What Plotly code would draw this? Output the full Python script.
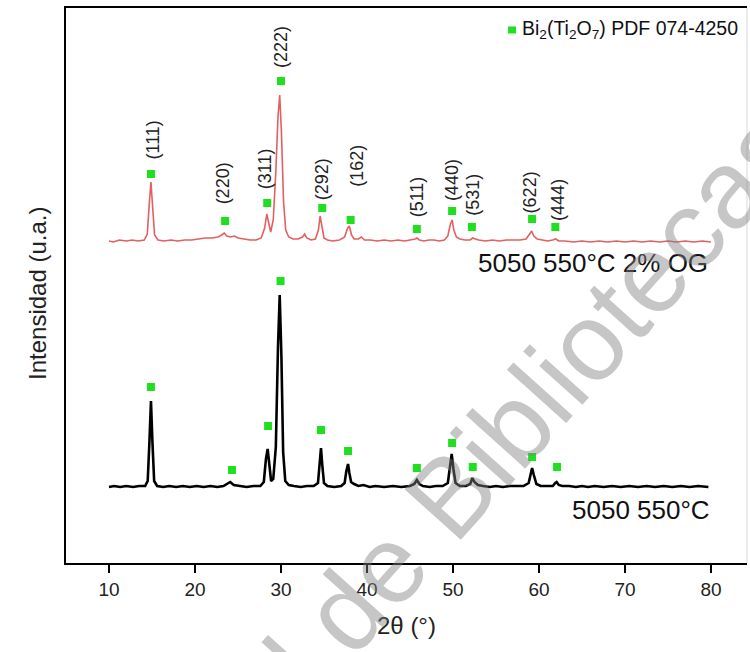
import plotly.graph_objects as go

# XRD patterns: (2theta in degrees, intensity above the pattern's own baseline, a.u.)
pattern_5050 = [
    (10.0, 0), (10.6, 1), (11.3, 0), (12.0, 1), (12.8, 0), (13.5, 1), (14.2, 1),
    (14.5, 6), (14.7, 45), (14.88, 86), (15.05, 45), (15.25, 6), (15.6, 1),
    (16.3, 0), (17.0, 1), (17.8, 0), (18.6, 1), (19.4, 0), (20.2, 1), (21.0, 0),
    (21.8, 1), (22.6, 0), (23.3, 1), (23.8, 3), (24.1, 5), (24.5, 2), (25.2, 1),
    (26.0, 0), (26.8, 1), (27.6, 1), (28.0, 5), (28.25, 28), (28.45, 38),
    (28.65, 22), (28.85, 6), (29.1, 8), (29.4, 40), (29.65, 140), (29.85, 192),
    (30.05, 130), (30.25, 35), (30.5, 6), (30.9, 2), (31.5, 1), (32.3, 0),
    (33.0, 1), (33.8, 1), (34.3, 4), (34.5, 22), (34.65, 39), (34.8, 22),
    (35.0, 4), (35.4, 1), (36.2, 0), (37.0, 1), (37.4, 4), (37.6, 16), (37.8, 23),
    (37.95, 14), (38.15, 5), (38.5, 3), (39.0, 1), (39.6, 2), (40.3, 0), (41.0, 1),
    (42.0, 0), (43.0, 1), (44.0, 0), (45.0, 1), (45.5, 3), (45.8, 7), (46.1, 3),
    (46.5, 1), (47.3, 0), (48.0, 1), (48.8, 1), (49.4, 4), (49.65, 20),
    (49.85, 33), (50.05, 18), (50.3, 4), (50.8, 1), (51.5, 1), (52.0, 3),
    (52.25, 9), (52.5, 5), (52.9, 2), (53.5, 1), (54.3, 0), (55.0, 1), (55.8, 0),
    (56.6, 1), (57.4, 1), (58.2, 1), (58.8, 4), (59.05, 15), (59.2, 19),
    (59.4, 12), (59.7, 3), (60.2, 1), (61.0, 1), (61.6, 1), (61.9, 4), (62.05, 5),
    (62.3, 2), (62.7, 1), (63.5, 1), (64.3, 0), (65.0, 1), (65.7, 0), (66.5, 1),
    (67.5, 0), (68.5, 1), (69.5, 0), (70.5, 1), (71.5, 0), (72.5, 1), (73.5, 0),
    (74.5, 1), (75.5, 0), (76.5, 1), (77.5, 0), (78.5, 1), (79.7, 0),
]

pattern_5050_og = [
    (10.0, 1), (10.5, 0), (11.2, 2), (12.0, 1), (12.7, 2), (13.4, 1), (14.1, 2),
    (14.45, 8), (14.7, 40), (14.88, 60), (15.05, 38), (15.3, 7), (15.7, 2),
    (16.4, 1), (17.2, 2), (18.0, 1), (18.8, 2), (19.6, 2), (20.4, 3), (21.2, 4),
    (22.0, 4), (22.7, 5), (23.1, 7), (23.4, 9), (23.7, 6), (24.1, 5), (24.6, 6),
    (25.0, 4), (25.7, 3), (26.4, 2), (27.1, 2), (27.7, 4), (28.1, 14),
    (28.35, 28), (28.55, 20), (28.8, 10), (29.1, 22), (29.4, 70), (29.65, 125),
    (29.85, 147), (30.05, 110), (30.3, 40), (30.55, 12), (30.9, 5), (31.4, 3),
    (32.0, 3), (32.5, 5), (32.75, 8), (33.0, 4), (33.5, 2), (34.0, 3),
    (34.35, 12), (34.55, 26), (34.75, 14), (35.0, 4), (35.4, 2), (36.0, 1),
    (36.8, 2), (37.4, 5), (37.75, 14), (37.95, 16), (38.2, 7), (38.5, 3),
    (39.0, 3), (39.35, 5), (39.7, 2), (40.4, 2), (41.2, 1), (42.0, 2), (42.8, 1),
    (43.6, 2), (44.4, 1), (45.2, 2), (45.6, 3), (45.8, 4), (46.1, 2), (46.6, 1),
    (47.2, 2), (47.8, 2), (48.4, 1), (49.0, 2), (49.4, 6), (49.7, 18),
    (49.9, 22), (50.1, 12), (50.4, 5), (50.8, 3), (51.4, 2), (52.0, 2),
    (52.3, 4), (52.6, 3), (53.0, 2), (53.8, 1), (54.6, 2), (55.4, 1), (56.2, 2),
    (57.0, 2), (57.8, 2), (58.5, 3), (58.9, 8), (59.15, 11), (59.4, 6),
    (59.8, 3), (60.4, 2), (61.0, 1), (61.6, 2), (61.95, 3), (62.3, 1), (63.0, 1),
    (64.0, 0), (65.0, 1), (66.0, 0), (67.0, 1), (68.0, 0), (69.0, 1), (70.0, 0),
    (71.0, 1), (72.0, 0), (73.0, 1), (74.0, 0), (75.0, 1), (76.0, 0), (77.0, 1),
    (78.0, 0), (79.0, 1), (80.0, 0),
]

# Bi2Ti2O7 (PDF 074-4250) reflections
hkl = ["(111)", "(220)", "(311)", "(222)", "(292)", "(162)",
       "(511)", "(440)", "(531)", "(622)", "(444)"]

ref_tth_og = [14.88, 23.5, 28.4, 30.0, 34.8, 38.1, 45.8, 49.9, 52.2, 59.2, 61.9]
ref_height_og = [68, 21, 39, 161, 34, 22, 13, 31, 15, 23, 15]
ref_tth = [14.88, 24.3, 28.5, 29.95, 34.65, 37.8, 45.8, 49.9, 52.3, 59.2, 62.1]
ref_height = [100, 17, 61, 206, 57, 36, 19, 44, 20, 30, 20]

# hkl label placement (2theta, height of the label's lower end above the OG baseline)
label_tth = [15.0, 23.3, 28.1, 30.0, 34.8, 38.8, 45.8, 49.9, 52.3, 59.0, 62.2]
label_height = [80, 36, 51, 172, 40, 53, 23, 39, 24, 27, 19]

# vertical stacking offsets of the two patterns
OFFSET_5050 = 76
OFFSET_OG = 321

FONT = "Liberation Sans, Arial, sans-serif"
GREEN = "#1fe01f"

tth_a = [p[0] for p in pattern_5050]
int_a = [p[1] + OFFSET_5050 for p in pattern_5050]
tth_b = [p[0] for p in pattern_5050_og]
int_b = [p[1] + OFFSET_OG for p in pattern_5050_og]

fig = go.Figure()

fig.add_trace(go.Scatter(
    x=tth_a, y=int_a, mode="lines",
    line=dict(color="black", width=2.6), showlegend=False))
fig.add_trace(go.Scatter(
    x=tth_b, y=int_b, mode="lines",
    line=dict(color="rgb(226,96,96)", width=1.6), showlegend=False))

fig.add_trace(go.Scatter(
    x=ref_tth, y=[h + OFFSET_5050 for h in ref_height], mode="markers",
    marker=dict(symbol="square", size=8, color=GREEN), showlegend=False))
fig.add_trace(go.Scatter(
    x=ref_tth_og, y=[h + OFFSET_OG for h in ref_height_og], mode="markers",
    marker=dict(symbol="square", size=8, color=GREEN), showlegend=False))

annotations = []
for name, xt, h in zip(hkl, label_tth, label_height):
    annotations.append(dict(
        x=xt, y=h + OFFSET_OG, xref="x", yref="y", text=name, textangle=-90,
        showarrow=False, xanchor="center", yanchor="bottom",
        font=dict(family=FONT, size=18, color="#222222")))

# sample names
annotations.append(dict(
    x=79.9, y=OFFSET_OG - 21, xref="x", yref="y", text="5050 550°C 2% OG",
    showarrow=False, xanchor="right", yanchor="middle",
    font=dict(family=FONT, size=26, color="#111111")))
annotations.append(dict(
    x=80.1, y=OFFSET_5050 - 23, xref="x", yref="y", text="5050 550°C",
    showarrow=False, xanchor="right", yanchor="middle",
    font=dict(family=FONT, size=26, color="#111111")))

# legend entry
annotations.append(dict(
    x=0.6667, y=0.9604, xref="paper", yref="paper",
    text="Bi<sub>2</sub>(Ti<sub>2</sub>O<sub>7</sub>) PDF 074-4250",
    showarrow=False, xanchor="left", yanchor="middle",
    font=dict(family=FONT, size=19.5, color="#111111")))

# y-axis title
annotations.append(dict(
    x=-0.0411, y=0.4847, xref="paper", yref="paper", text="Intensidad (u.a.)",
    textangle=-90, showarrow=False, xanchor="center", yanchor="middle",
    font=dict(family=FONT, size=24, color="#222222")))

# library watermark
annotations.append(dict(
    x=0.508, y=0.0486, xref="paper", yref="paper", text="General de Bibliotecas",
    textangle=-48, showarrow=False, xanchor="center", yanchor="middle",
    font=dict(family=FONT, size=110, color="rgba(128,128,128,0.45)")))

shapes = [
    dict(type="rect", xref="paper", yref="paper", xsizemode="pixel", ysizemode="pixel",
         xanchor=0.655, yanchor=0.9604, x0=-4, x1=4, y0=-3.5, y1=3.5,
         fillcolor=GREEN, line=dict(width=0)),
    dict(type="line", xref="paper", yref="paper", x0=1, x1=1, y0=0, y1=1,
         line=dict(color="#d9d9d9", width=1)),
]

fig.update_layout(
    width=750, height=652,
    margin=dict(l=66, r=3, t=8, b=89),
    paper_bgcolor="white", plot_bgcolor="white",
    font=dict(family=FONT, color="#222222"),
    annotations=annotations, shapes=shapes,
    showlegend=False,
    xaxis=dict(
        range=[5, 84.19], tickmode="array", tickvals=[10, 20, 30, 40, 50, 60, 70, 80],
        ticks="outside", ticklen=8, tickwidth=1.5, tickcolor="black",
        ticklabelstandoff=0,
        showline=True, linecolor="black", linewidth=2, mirror=True,
        showgrid=False, zeroline=False, automargin=False,
        tickfont=dict(family=FONT, size=19, color="#222222"),
        title=dict(text="2θ (°)", standoff=18,
                   font=dict(family=FONT, size=24, color="#222222")),
    ),
    yaxis=dict(
        range=[0, 555], showticklabels=False, ticks="",
        showline=True, linecolor="black", linewidth=2, mirror=False,
        showgrid=False, zeroline=False, automargin=False,
    ),
)

fig.write_html("out.html")
